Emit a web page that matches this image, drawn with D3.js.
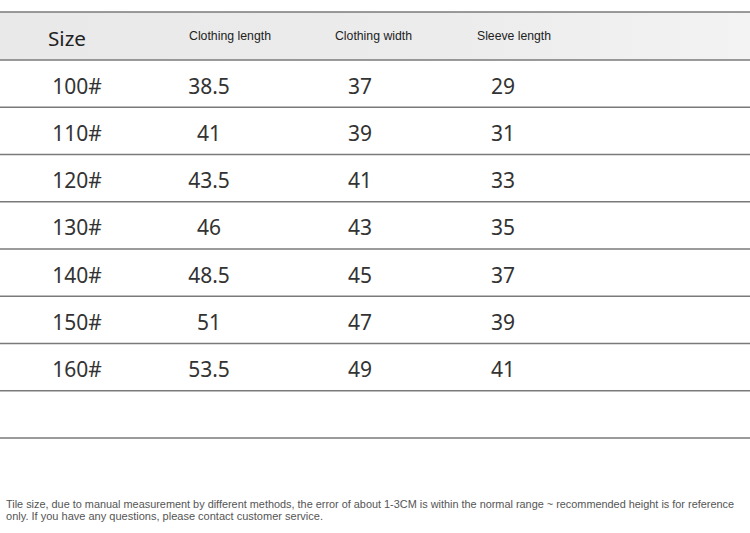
<!DOCTYPE html>
<html><head><meta charset="utf-8">
<script src="https://cdn.jsdelivr.net/npm/d3@7/dist/d3.min.js"></script>
<style>html,body{margin:0;padding:0;background:#fff;}svg{display:block;}</style>
</head><body>
<svg id="c" width="750" height="533"></svg>
<script>
const sizes = ["100#","110#","120#","130#","140#","150#","160#"];
const clothingLength = ["38.5","41","43.5","46","48.5","51","53.5"];
const clothingWidth = ["37","39","41","43","45","47","49"];
const sleeveLength = ["29","31","33","35","37","39","41"];
const headers = ["Size","Clothing length","Clothing width","Sleeve length"];
const note1 = "Tile size, due to manual measurement by different methods, the error of about 1-3CM is within the normal range ~ recommended height is for reference";
const note2 = "only. If you have any questions, please contact customer service.";

const svg = d3.select("#c");
const W = 750;

const rowKeys = ["header", ...sizes, "blank"];
const y = d3.scaleBand().domain(rowKeys.slice(1)).range([60, 438]);
const cols = ["size","len","wid","slv"];
const xBody = d3.scaleOrdinal().domain(cols).range([77, 209, 360, 503]);
const xHead = d3.scaleOrdinal().domain(cols).range([48, 230, 373.5, 514]);
const headLen = d3.scaleOrdinal().domain(cols).range([38, 82, 77, 74]);

// header background
const defs = svg.append("defs");
const g = defs.append("linearGradient").attr("id","hg").attr("x1",0).attr("x2",1).attr("y1",0).attr("y2",0);
g.append("stop").attr("offset","0%").attr("stop-color","#e9e9e9");
g.append("stop").attr("offset","60%").attr("stop-color","#ececec");
g.append("stop").attr("offset","100%").attr("stop-color","#f3f3f3");
svg.append("rect").attr("x",0).attr("y",12).attr("width",W).attr("height",48).attr("fill","url(#hg)");

// lines
const lineYs = [12, 60, ...rowKeys.slice(1).map(k => y(k) + y.bandwidth())];
svg.selectAll("line.r").data(lineYs).join("line")
  .attr("x1",0).attr("x2",W).attr("y1",d=>d).attr("y2",d=>d)
  .attr("stroke","#7a7a7a").attr("stroke-width",1.6);

// header texts
svg.append("text").attr("x",xHead("size")).attr("y",45.5)
  .attr("font-family","'Noto Sans', 'Open Sans', sans-serif").attr("font-size",20).attr("fill","#222")
  .attr("textLength", headLen("size")).attr("lengthAdjust","spacingAndGlyphs")
  .text(headers[0]);
cols.slice(1).forEach((c,i)=>{
  svg.append("text").attr("x",xHead(c)).attr("y",40).attr("text-anchor","middle")
    .attr("font-family","'Liberation Sans', Arial, sans-serif")
    .attr("font-size",13).attr("fill","#222")
    .attr("textLength", headLen(c)).attr("lengthAdjust","spacingAndGlyphs")
    .text(headers[i+1]);
});

// body
const data = sizes.map((s,i)=>({s, vals:[s, clothingLength[i], clothingWidth[i], sleeveLength[i]]}));
const rows = svg.selectAll("g.row").data(data).join("g").attr("class","row");
rows.each(function(d){
  const gr = d3.select(this);
  d.vals.forEach((v,j)=>{
    gr.append("text").attr("x", xBody(cols[j])).attr("y", y(d.s) + y.bandwidth()/2 + 10)
      .attr("text-anchor","middle")
      .attr("font-family","'Noto Sans', 'Open Sans', sans-serif").attr("font-size",21)
      .attr("fill","#333").text(v);
  });
});

// footnote
const noteLen = [728, 317];
[note1, note2].forEach((t,i)=>{
  svg.append("text").attr("x",6).attr("y",508 + i*12)
    .attr("font-family","'Liberation Sans', Arial, sans-serif")
    .attr("font-size",10.8).attr("fill","#555")
    .attr("textLength", noteLen[i]).attr("lengthAdjust","spacingAndGlyphs")
    .text(t);
});
</script>
</body></html>
